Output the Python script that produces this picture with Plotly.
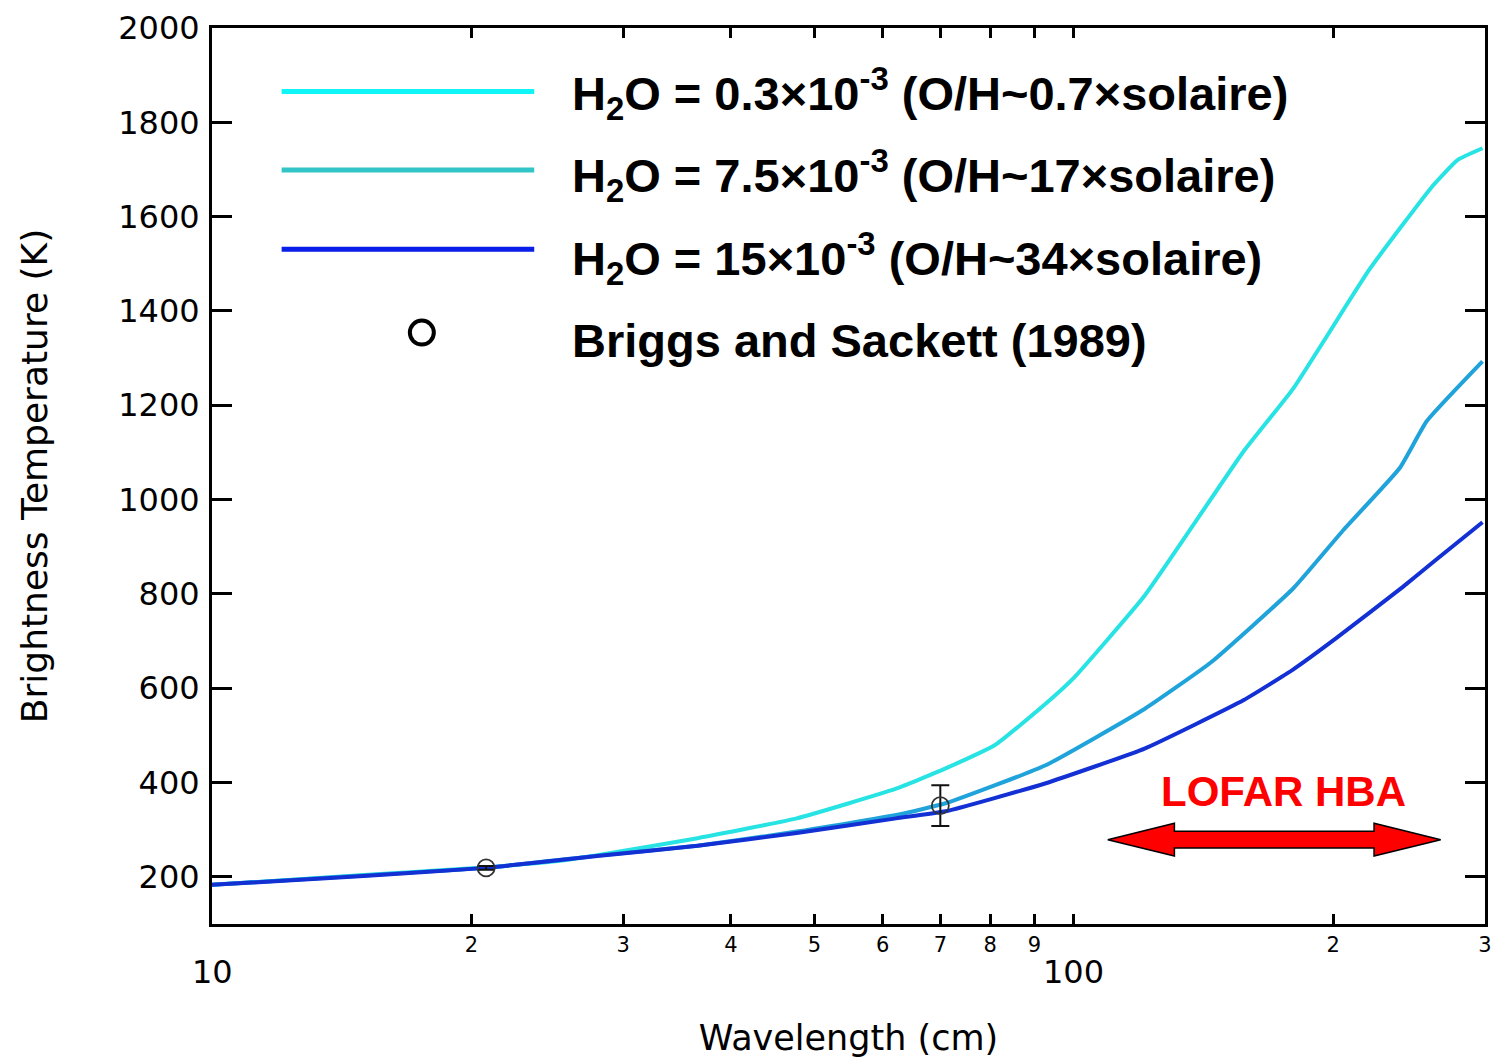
import numpy as np
import plotly.graph_objects as go

# ---------------- data ----------------
cyan_x = [10, 12, 15, 20, 25, 28, 36.6, 47.7, 62.2, 71, 81.1, 92.6, 100, 120.8, 157.5, 179.8, 220.5, 260.8, 278.7, 298]
cyan_y = [183, 192, 204, 218, 233, 246, 282, 324, 387, 430, 480, 566, 622, 796, 1103, 1236, 1489, 1665, 1720, 1745]

teal_x = [10, 15, 20.8, 28, 36.6, 47.7, 62.2, 71, 92.6, 120.8, 144.3, 179.8, 205.4, 238.9, 256.7, 298]
teal_y = [183, 203, 219, 245, 266, 296, 331, 356, 436, 556, 655, 812, 935, 1067, 1166, 1293]

blue_x = [10, 15, 20.8, 28, 36.6, 47.7, 62.2, 71, 92.6, 120.8, 157.5, 179.8, 201.6, 240.9, 263, 298]
blue_y = [183, 202, 219, 244, 266, 293, 324, 339, 398, 472, 575, 640, 706, 815, 872, 952]

obs_x = [20.8, 70]
obs_y = [219, 351]
obs_err = [4, 43]

legend_labels = [
    "<b>H<sub>2</sub>O = 0.3×10<sup>-3</sup> (O/H~0.7×solaire)</b>",
    "<b>H<sub>2</sub>O = 7.5×10<sup>-3</sup> (O/H~17×solaire)</b>",
    "<b>H<sub>2</sub>O = 15×10<sup>-3</sup> (O/H~34×solaire)</b>",
    "<b>Briggs and Sackett (1989)</b>",
]

x_tickvals = [20, 30, 40, 50, 60, 70, 80, 90, 100, 200, 300]
x_ticktext = ["2", "3", "4", "5", "6", "7", "8", "9", "", "2", "3"]
x_decade_vals = [10, 100]
x_decade_text = ["10", "100"]
y_tickvals = [200, 400, 600, 800, 1000, 1200, 1400, 1600, 1800, 2000]

lofar_band = [109.5, 266.5]  # cm
lofar_label = "<b>LOFAR HBA</b>"

# ---------------- styling ----------------
curve_colors = ["#27E3E3", "#1FA3DA", "#1230D4"]
legend_colors = ["#10F5F5", "#33C4C8", "#0A1EEA"]
X_RANGE = [1, np.log10(300)]
Y_RANGE = [100, 2000]

fig = go.Figure()
for xs, ys, c in [(cyan_x, cyan_y, curve_colors[0]),
                  (teal_x, teal_y, curve_colors[1]),
                  (blue_x, blue_y, curve_colors[2])]:
    fig.add_trace(go.Scatter(x=xs, y=ys, mode="lines",
                             line=dict(color=c, width=4, shape="spline", smoothing=0.4),
                             showlegend=False))

fig.add_trace(go.Scatter(
    x=obs_x, y=obs_y, mode="markers",
    marker=dict(symbol="circle-open", size=17, color="#333333", line=dict(width=1.8)),
    error_y=dict(type="data", array=obs_err, color="#111111", thickness=2, width=9),
    showlegend=False))

# ---------------- legend built by hand ----------------
W, H = 1501, 1061
ML, MR, MT, MB = 212, 9, 24, 134
PW, PH = W - ML - MR, H - MT - MB


def px2paper_x(px):
    return (px - ML) / PW


def px2paper_y(py):
    return (H - MB - py) / PH


shapes = []
annotations = []
line_rows = [88, 167, 247]
text_rows = [90, 173, 256, 339]
for i, c in enumerate(legend_colors):
    shapes.append(dict(type="line", xref="paper", yref="paper",
                       x0=px2paper_x(282), x1=px2paper_x(536),
                       y0=px2paper_y(line_rows[i]), y1=px2paper_y(line_rows[i]),
                       line=dict(color=c, width=5)))
shapes.append(dict(type="circle", xref="paper", yref="paper",
                   xsizemode="pixel", ysizemode="pixel",
                   xanchor=px2paper_x(423), yanchor=px2paper_y(331),
                   x0=-12, x1=12, y0=-12, y1=12,
                   line=dict(color="black", width=4)))
for i, t in enumerate(legend_labels):
    annotations.append(dict(text=t, xref="paper", yref="paper",
                            x=px2paper_x(572), y=px2paper_y(text_rows[i]),
                            xanchor="left", yanchor="middle", showarrow=False,
                            font=dict(family="Liberation Sans, Arial", size=47, color="black")))

# decade labels of the log axis (drawn lower, larger)
for v, t in zip(x_decade_vals, x_decade_text):
    annotations.append(dict(text=t, xref="x", yref="paper", x=np.log10(v),
                            y=px2paper_y(975), xanchor="center", yanchor="middle",
                            showarrow=False,
                            font=dict(family="DejaVu Sans", size=32, color="black")))

# LOFAR HBA arrow
def xdata2paper(v):
    return (np.log10(v) - X_RANGE[0]) / (X_RANGE[1] - X_RANGE[0])


xa, xb = xdata2paper(lofar_band[0]), xdata2paper(lofar_band[1])
head = 67 / PW
yc = px2paper_y(842)
hb = 8.5 / PH
hh = 16.5 / PH
path = (f"M {xa},{yc} L {xa+head},{yc+hh} L {xa+head},{yc+hb} L {xb-head},{yc+hb} "
        f"L {xb-head},{yc+hh} L {xb},{yc} L {xb-head},{yc-hh} L {xb-head},{yc-hb} "
        f"L {xa+head},{yc-hb} L {xa+head},{yc-hh} Z")
shapes.append(dict(type="path", xref="paper", yref="paper", path=path,
                   fillcolor="#FF0000", line=dict(color="black", width=1.5)))
annotations.append(dict(text=lofar_label, xref="paper", yref="paper",
                        x=px2paper_x(1289), y=px2paper_y(793), xanchor="center", yanchor="middle",
                        showarrow=False,
                        font=dict(family="Liberation Sans, Arial", size=42, color="#FF0000")))

fig.update_layout(
    width=W, height=H,
    margin=dict(l=ML, r=MR, t=MT, b=MB),
    paper_bgcolor="white", plot_bgcolor="white",
    shapes=shapes, annotations=annotations,
    showlegend=False,
    xaxis=dict(type="log", range=X_RANGE, showgrid=False, zeroline=False,
               showline=True, linecolor="black", linewidth=3, mirror="allticks",
               ticks="inside", ticklen=10, tickwidth=3, tickcolor="black",
               tickmode="array", tickvals=x_tickvals, ticktext=x_ticktext,
               tickfont=dict(family="DejaVu Sans", size=21, color="black"),
               title=dict(text="Wavelength (cm)", standoff=70,
                          font=dict(family="DejaVu Sans", size=35, color="black"))),
    yaxis=dict(range=Y_RANGE, showgrid=False, zeroline=False,
               showline=True, linecolor="black", linewidth=3, mirror="allticks",
               ticks="inside", ticklen=20, tickwidth=3, tickcolor="black",
               tickmode="array", tickvals=y_tickvals,
               ticklabelstandoff=3,
               tickfont=dict(family="DejaVu Sans", size=32, color="black"),
               title=dict(text="Brightness Temperature (K)", standoff=60,
                          font=dict(family="DejaVu Sans", size=36, color="black"))),
)

fig.write_html("out.html")
